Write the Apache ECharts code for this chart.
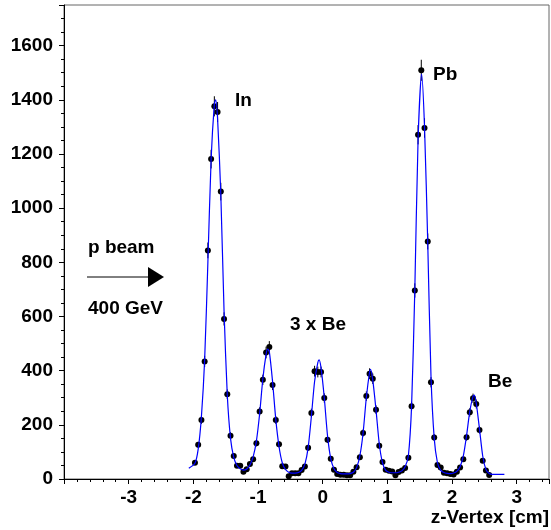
<!DOCTYPE html>
<html>
<head>
<meta charset="utf-8">
<script src="https://cdn.jsdelivr.net/npm/echarts@6/dist/echarts.min.js"></script>
<style>
  html, body { margin: 0; padding: 0; background: #fff; }
  #chart { width: 551px; height: 530px; }
</style>
</head>
<body>
<div id="chart"></div>
<script>
// histogram binning (cm)
const binStart = -1.975
const binWidth = 0.05

// counts per bin
const counts = [
  60, 126, 218, 434, 844, 1181, 1376, 1355, 1061, 591,
  313, 160, 85, 49, 49, 27, 36, 55, 73, 132,
  249, 366, 467, 487, 347, 218, 128, 47, 46, 10,
  21, 21, 21, 33, 46, 115, 244, 398, 395, 395,
  299, 145, 75, 34, 18, 16, 16, 14, 14, 27,
  43, 80, 170, 306, 389, 370, 256, 123, 63, 34,
  30, 28, 14, 26, 31, 41, 78, 269, 696, 1271,
  1509, 1296, 877, 357, 153, 52, 42, 23, 21, 18,
  17, 27, 42, 73, 154, 246, 298, 277, 181, 67,
  31, 15
]

// fitted curve
const fitX = [
  -2.07, -1.975, -1.925, -1.875, -1.825, -1.775, -1.725, -1.675, -1.655, -1.625,
  -1.575, -1.525, -1.475, -1.425, -1.375, -1.325, -1.275, -1.225, -1.175, -1.125,
  -1.075, -1.025, -0.975, -0.925, -0.875, -0.85, -0.825, -0.775, -0.725, -0.675,
  -0.625, -0.575, -0.525, -0.475, -0.425, -0.375, -0.325, -0.275, -0.225, -0.175,
  -0.125, -0.075, -0.055, -0.025, 0.025, 0.075, 0.125, 0.175, 0.225, 0.275,
  0.325, 0.375, 0.425, 0.475, 0.525, 0.575, 0.625, 0.675, 0.725, 0.74,
  0.775, 0.825, 0.875, 0.925, 0.975, 1.025, 1.075, 1.125, 1.175, 1.225,
  1.275, 1.325, 1.375, 1.425, 1.475, 1.53, 1.575, 1.625, 1.675, 1.725,
  1.775, 1.825, 1.875, 1.925, 1.975, 2.025, 2.075, 2.125, 2.175, 2.225,
  2.275, 2.325, 2.345, 2.375, 2.425, 2.475, 2.525, 2.575, 2.625, 2.81
]
const fitY = [
  40, 58, 110, 230, 440, 800, 1180, 1385, 1400, 1330,
  1050, 620, 310, 150, 80, 50, 38, 33, 37, 52,
  82, 140, 240, 370, 460, 480, 470, 360, 220, 120,
  60, 35, 25, 22, 22, 24, 32, 55, 115, 230,
  360, 430, 440, 410, 300, 160, 75, 38, 24, 20,
  19, 19, 20, 25, 42, 85, 170, 300, 395, 405,
  365, 255, 130, 60, 32, 25, 23, 23, 25, 30,
  45, 85, 270, 700, 1250, 1495, 1300, 870, 380, 150,
  60, 32, 24, 21, 20, 22, 28, 45, 85, 160,
  250, 305, 310, 280, 185, 85, 35, 20, 17, 17
]

const xTicks = [-4, 3.5, 1]   // min, max, interval
const yTicks = [0, 1750, 200]

const points = counts.map((c, i) => [+(binStart + i * binWidth).toFixed(3), c])
const fit = fitX.map((x, i) => [x, fitY[i]])

const FONT = '"Liberation Sans", Arial, Helvetica, sans-serif'

const chart = echarts.init(document.getElementById('chart'))

const label = (text, x, y, align) => ({
  type: 'text',
  x, y,
  style: {
    text,
    fill: '#000',
    font: 'bold 19px ' + FONT,
    textAlign: align || 'left',
    textVerticalAlign: 'middle'
  }
})

chart.setOption({
  animation: false,
  backgroundColor: '#fff',
  grid: {
    left: 64, right: 2, top: 5, bottom: 51,
    show: true, borderColor: '#666', borderWidth: 1,
    outerBoundsMode: 'none'
  },
  xAxis: {
    type: 'value',
    min: xTicks[0], max: xTicks[1], interval: xTicks[2],
    axisLine: { onZero: false, lineStyle: { color: '#000', width: 1 } },
    axisTick: { inside: false, length: 5, lineStyle: { color: '#000' } },
    minorTick: { show: true, splitNumber: 5, length: 3, lineStyle: { color: '#000' } },
    splitLine: { show: false },
    axisLabel: {
      color: '#000', fontSize: 19, fontWeight: 'bold', fontFamily: FONT,
      margin: 9, showMinLabel: false, showMaxLabel: false,
      formatter: (v) => String(v)
    }
  },
  yAxis: {
    type: 'value',
    min: yTicks[0], max: yTicks[1], interval: yTicks[2],
    axisLine: { show: true, onZero: false, lineStyle: { color: '#000', width: 1 } },
    axisTick: { show: true, inside: false, length: 5, lineStyle: { color: '#000' } },
    minorTick: { show: true, splitNumber: 4, length: 3, lineStyle: { color: '#000' } },
    splitLine: { show: false },
    axisLabel: {
      color: '#000', fontSize: 19, fontWeight: 'bold', fontFamily: FONT,
      margin: 11, showMaxLabel: false,
      formatter: (v) => String(v)
    }
  },
  graphic: [
    label('In', 235, 101),
    label('Pb', 433, 75),
    label('3 x Be', 290, 325),
    label('Be', 488, 382),
    label('p beam', 88, 248),
    label('400 GeV', 88, 309),
    label('z-Vertex [cm]', 549, 518, 'right'),
    { type: 'line', shape: { x1: 87, y1: 277, x2: 150, y2: 277 }, style: { stroke: '#000', lineWidth: 1 } },
    { type: 'polygon', shape: { points: [[148, 267], [164, 277], [148, 287]] }, style: { fill: '#000' } }
  ],
  series: [
    {
      // statistical error bars (sqrt N)
      type: 'custom',
      data: points,
      z: 2,
      renderItem: (params, api) => {
        const x = api.value(0)
        const v = api.value(1)
        const e = Math.sqrt(v)
        const top = api.coord([x, v + e])
        const bot = api.coord([x, Math.max(0, v - e)])
        return {
          type: 'line',
          shape: { x1: top[0], y1: top[1], x2: bot[0], y2: bot[1] },
          style: { stroke: '#000', lineWidth: 1 }
        }
      }
    },
    {
      type: 'scatter',
      data: points,
      symbol: 'circle',
      symbolSize: 6,
      itemStyle: { color: '#000', opacity: 1 },
      z: 3
    },
    {
      type: 'line',
      data: fit,
      smooth: 0.25,
      showSymbol: false,
      lineStyle: { color: '#0000ff', width: 1.2 },
      z: 4
    }
  ]
})
</script>
</body>
</html>
